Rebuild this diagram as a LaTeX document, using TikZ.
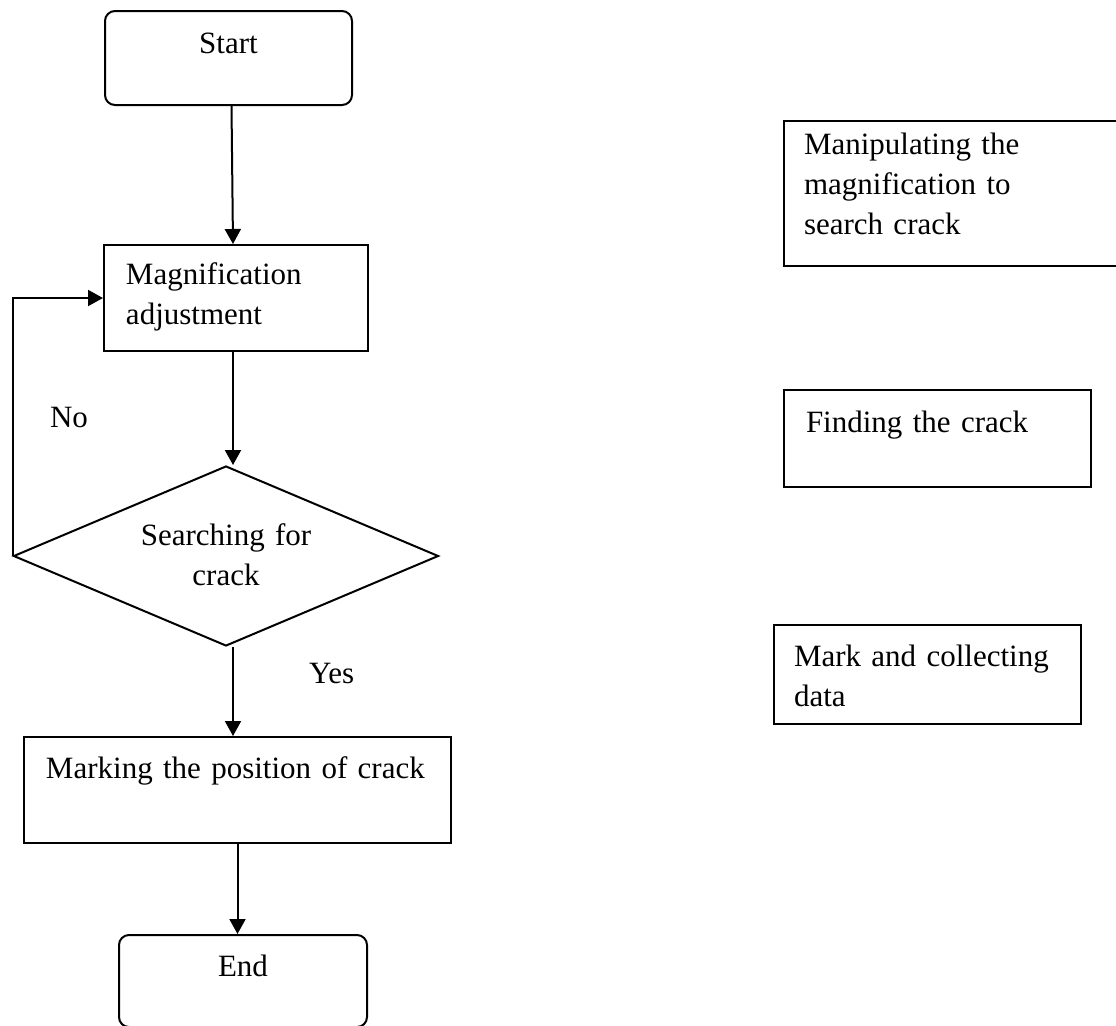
\documentclass[tikz,border=0pt]{standalone}
\usepackage{fontspec}
\setmainfont{Liberation Serif}
\usetikzlibrary{arrows.meta,shapes.geometric}

\begin{document}
\begin{tikzpicture}[x=0.5pt,y=-0.5pt,
    arr/.style={-{Triangle[length=7.5pt,width=8pt]}, line width=1pt}]

      \useasboundingbox (0,0) rectangle (1116,1025);

      \begin{scope}[every node/.style={draw, line width=1pt, anchor=north west, inner sep=0pt,
          text height=10pt, align=left, font=\fontsize{15.5}{20}\selectfont}]
        % main flow
        \node[rounded corners=5pt, align=center, text width=123.5pt, inner ysep=11pt, text depth=15pt] (start) at (104,10) {Start};
        \node[inner xsep=11pt, text width=110pt, inner ysep=9.5pt, text depth=24pt] (magnif) at (103,244) {Magnification\\adjustment};
        \node[diamond, anchor=center, align=center, text width=90pt, aspect=2.36, text depth=21pt,
          minimum width=212.5pt, minimum height=90pt] (search) at (226,556) {Searching for\\crack};
        \node[inner xsep=11pt, text width=191.5pt, inner ysep=10.5pt, text depth=22pt] (mark) at (23,736) {Marking the position of crack};
        \node[rounded corners=5pt, align=center, text width=124pt, inner ysep=10.5pt, text depth=15pt] (end) at (118,934) {End};

        % notes on the right
        \node[inner xsep=10pt, text width=158.5pt, inner ysep=6.5pt, text depth=49.5pt] (mani) at (783,120) {Manipulating the\\magnification to\\search crack};
        \node[inner xsep=11pt, text width=131.5pt, inner ysep=11pt, text depth=16.5pt] (find) at (783,389) {Finding the crack};
        \node[inner xsep=10pt, text width=133.5pt, inner ysep=10.5pt, text depth=18.5pt] (collect) at (773,624) {Mark and collecting\\data};
      \end{scope}

      \begin{scope}[every node/.style={anchor=base west, font=\fontsize{15.5}{20}\selectfont}]
        \node (lblno)  at (43,427)  {No};
        \node (lblyes) at (302,683) {Yes};
      \end{scope}

      \draw[arr] ([xshift=1.5pt]start.south) -- ([xshift=-1.5pt]magnif.north);
      \draw[arr] ([xshift=-1.5pt]magnif.south) -- ([xshift=-1.5pt]magnif.south |- search.north);
      \draw[arr] ([xshift=3.5pt]search.south) -- ([xshift=3.5pt]search.south |- mark.north);
      \draw[arr] (mark.south) -- (mark.south |- end.north);
      \draw[arr] (search.west) |- (magnif.west);

    \end{tikzpicture}
\end{document}
